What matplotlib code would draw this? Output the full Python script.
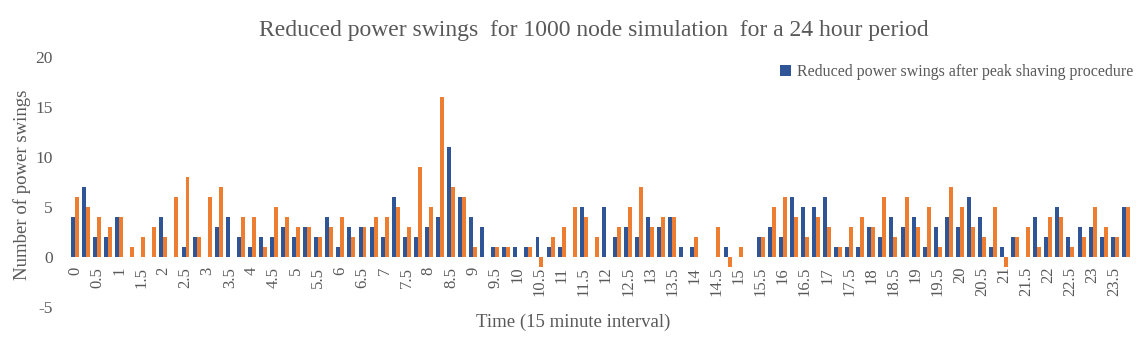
import matplotlib
matplotlib.use("Agg")
import matplotlib.pyplot as plt
import numpy as np

times = [i * 0.25 for i in range(96)]
tick_labels = [("%g" % (i * 0.5)) for i in range(48)]

reduced = [4, 7, 2, 2, 4, 0, 0, 0, 4, 0, 1, 2, 0, 3, 4, 2, 1, 2, 2, 3,
           2, 3, 2, 4, 1, 3, 3, 3, 2, 6, 2, 2, 3, 4, 11, 6, 4, 3, 1, 1,
           1, 1, 2, 1, 1, 0, 5, 0, 5, 2, 3, 2, 4, 3, 4, 1, 1, 0, 0, 1,
           0, 0, 2, 3, 2, 6, 5, 5, 6, 1, 1, 1, 3, 2, 4, 3, 4, 1, 3, 4,
           3, 6, 4, 1, 1, 2, 0, 4, 2, 5, 2, 3, 3, 2, 2, 5]
original = [6, 5, 4, 3, 4, 1, 2, 3, 2, 6, 8, 2, 6, 7, 0, 4, 4, 1, 5, 4,
            3, 3, 2, 3, 4, 2, 3, 4, 4, 5, 3, 9, 5, 16, 7, 6, 1, 0, 1, 1,
            0, 1, -1, 2, 3, 5, 4, 2, 0, 3, 5, 7, 3, 4, 4, 0, 2, 0, 3, -1,
            1, 0, 2, 5, 6, 4, 2, 4, 3, 1, 3, 4, 3, 6, 2, 6, 3, 5, 1, 7,
            5, 3, 2, 5, -1, 2, 3, 1, 4, 4, 1, 2, 5, 3, 2, 5]

plt.rcParams['font.family'] = ['Liberation Serif', 'DejaVu Serif']
plt.rcParams['axes.unicode_minus'] = False
grey = '#595959'

fig = plt.figure(figsize=(11.37, 3.4), dpi=100)
ax = fig.add_axes([0.061, 0.097, 0.934, 0.735])

x = np.arange(len(times))
w = 0.36
ax.bar(x - w / 2, reduced, width=w, color='#2F5597',
       label='Reduced power swings after peak shaving procedure')
ax.bar(x + w / 2, original, width=w, color='#ED7D31', label='_nolegend_')

for s in ax.spines.values():
    s.set_visible(False)
ax.spines['bottom'].set_position(('data', 0))

ax.set_xlim(-0.5, len(times) - 0.5)
ax.set_ylim(-5, 20)
ax.set_yticks([-5, 0, 5, 10, 15, 20])
ax.set_xticks(x[::2])
ax.set_xticklabels(tick_labels, rotation=90, fontsize=12, color=grey)
ax.tick_params(axis='y', labelsize=12.5, colors=grey, length=0, pad=12)
ax.tick_params(axis='x', length=0, pad=7)

ax.set_ylabel('Number of power swings', fontsize=13.5, color=grey)
ax.yaxis.label.set_va('center')
ax.yaxis.set_label_coords(-0.045, 0.49)
ax.set_xlabel('Time (15 minute interval)', fontsize=13.5, color=grey)
ax.xaxis.label.set_va('center')
ax.xaxis.set_label_coords(0.474, -0.06)

fig.text(0.5225, 0.91,
         'Reduced power swings  for 1000 node simulation  for a 24 hour period',
         fontsize=17, color=grey, ha='center', va='center')

ax.legend(loc='center right', bbox_to_anchor=(1.012, 0.94), frameon=False,
          fontsize=11.5, handlelength=0.7, handleheight=0.7, handletextpad=0.35,
          labelcolor=grey, borderpad=0.2)

fig.savefig('out.png', dpi=100)
